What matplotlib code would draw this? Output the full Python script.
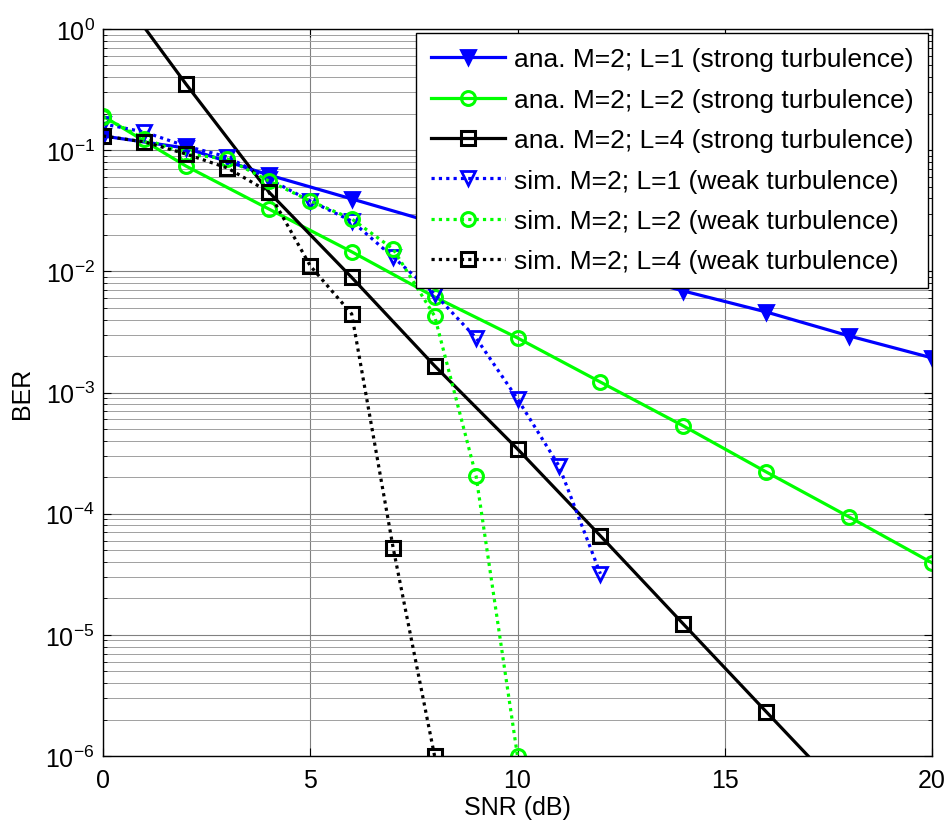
import numpy as np
import matplotlib; matplotlib.use("Agg")
import matplotlib.pyplot as plt
from matplotlib.ticker import LogLocator, FixedLocator, FuncFormatter, NullFormatter

plt.rcParams["font.family"] = ["Liberation Sans", "DejaVu Sans"]
plt.rcParams["mathtext.fontset"] = "custom"
plt.rcParams["mathtext.rm"] = "Liberation Sans"
plt.rcParams["mathtext.default"] = "regular"

# analytic curves (strong turbulence), every 2 dB
snr_ana = [0, 2, 4, 6, 8, 10, 12, 14, 16, 18, 20]
ana_L1 = [0.131, 0.104, 0.0624, 0.0396, 0.0251, 0.0162, 0.0105, 0.00689, 0.00462, 0.00293, 0.00193]
ana_L2 = [0.191, 0.074, 0.0327, 0.0145, 0.00615, 0.00282, 0.00122, 5.3e-4, 2.21e-4, 9.4e-5, 3.93e-5]
ana_L4 = [3.0, 0.352, 0.0452, 0.00891, 0.00166, 3.42e-4, 6.56e-5, 1.23e-5, 2.32e-6, 4.4e-7, 8.0e-8]

# simulated curves (weak turbulence), every 1 dB
snr_L1 = [0, 1, 2, 3, 4, 5, 6, 7, 8, 9, 10, 11, 12]
sim_L1 = [0.165, 0.141, 0.108, 0.088, 0.0578, 0.0381, 0.026, 0.0131, 0.00651, 0.00282, 8.85e-4, 2.48e-4, 3.19e-5]
snr_L2 = [0, 1, 2, 3, 4, 5, 6, 7, 8, 9, 10]
sim_L2 = [0.188, 0.124, 0.093, 0.0846, 0.0557, 0.0381, 0.0271, 0.0153, 0.00428, 2.05e-4, 1e-6]
snr_L4 = [0, 1, 2, 3, 4, 5, 6, 7, 8]
sim_L4 = [0.131, 0.117, 0.093, 0.0713, 0.0452, 0.0111, 0.00445, 5.22e-5, 1e-6]

labels = ["ana. M=2; L=1 (strong turbulence)", "ana. M=2; L=2 (strong turbulence)",
          "ana. M=2; L=4 (strong turbulence)", "sim. M=2; L=1 (weak turbulence)",
          "sim. M=2; L=2 (weak turbulence)", "sim. M=2; L=4 (weak turbulence)"]

fig = plt.figure(figsize=(9.47, 8.29), dpi=100)
ax = fig.add_axes([103 / 947, 1 - 757 / 829, (932 - 103) / 947, (757 - 30) / 829])

lw = 2.3
dot = (0, (1, 1.3))
kw_v = dict(marker="v", ms=10, mew=2)
kw_o = dict(marker="o", ms=10, mew=2.2, mfc="none")
kw_s = dict(marker="s", ms=10, mew=2.2, mfc="none")
ax.plot(snr_ana, ana_L1, color="#0000ff", lw=lw, label=labels[0], **kw_v)
ax.plot(snr_ana, ana_L2, color="#00ff00", lw=lw, label=labels[1], **kw_o)
ax.plot(snr_ana, ana_L4, color="black", lw=lw, label=labels[2], **kw_s)
ax.plot(snr_L1, sim_L1, color="#0000ff", lw=lw, ls=dot, label=labels[3], mfc="none", **kw_v)
ax.plot(snr_L2, sim_L2, color="#00ff00", lw=lw, ls=dot, label=labels[4], **kw_o)
ax.plot(snr_L4, sim_L4, color="black", lw=lw, ls=dot, label=labels[5], **kw_s)

ax.set_yscale("log")
ax.set_xlim(0, 20)
ax.set_ylim(1e-6, 1)
ax.xaxis.set_major_locator(FixedLocator([0, 5, 10, 15, 20]))
ax.yaxis.set_major_locator(LogLocator(base=10, numticks=10))
ax.yaxis.set_minor_locator(LogLocator(base=10, subs=np.arange(2, 10), numticks=20))
ax.yaxis.set_minor_formatter(NullFormatter())
ax.yaxis.set_major_formatter(FuncFormatter(lambda v, p: f"$10^{{{int(round(np.log10(v)))}}}$"))

ax.grid(True, which="major", color="#808080", lw=0.8)
ax.grid(True, which="minor", axis="y", color="#a0a0a0", lw=0.7)
ax.tick_params(which="both", direction="in", top=True, right=True, labelsize=18)
ax.tick_params(axis="x", pad=9)
ax.tick_params(axis="y", pad=6)
ax.tick_params(which="major", length=6)
ax.tick_params(which="minor", length=3)
for s in ax.spines.values():
    s.set_linewidth(1.0)

ax.set_xlabel("SNR (dB)", fontsize=18, labelpad=2)
ax.set_ylabel("BER", fontsize=18, labelpad=8)

leg = ax.legend(loc="upper right", fontsize=19, handlelength=2.8, labelspacing=0.62,
                borderaxespad=0.15, fancybox=False, framealpha=1, edgecolor="black",
                handletextpad=0.35, borderpad=0.55)
leg.get_frame().set_linewidth(1.0)

fig.savefig("out.png", dpi=100)
